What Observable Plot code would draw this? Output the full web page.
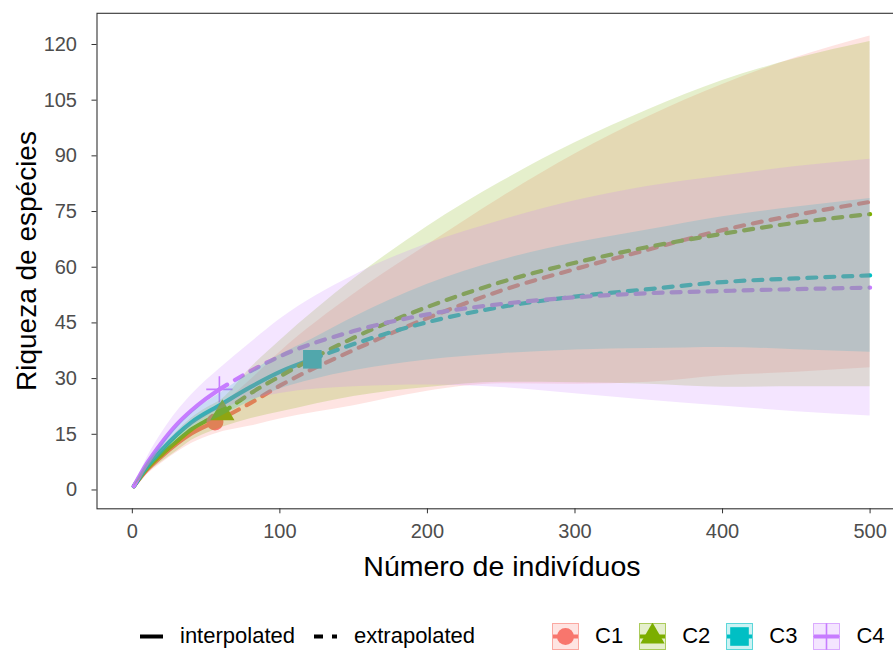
<!DOCTYPE html>
<html lang="pt">
<head>
<meta charset="utf-8">
<script src="https://cdn.jsdelivr.net/npm/d3@7"></script>
<script src="https://cdn.jsdelivr.net/npm/@observablehq/plot@0.6"></script>
<style>
  html, body { margin:0; padding:0; background:#fff; overflow:hidden; }
  body { width:893px; height:651px; position:relative; font-family:"Liberation Sans", Arial, sans-serif; }
  #chart { position:absolute; left:0; top:0; width:893px; height:600px; overflow:hidden; }
  #legend { position:absolute; left:0; top:622px; height:28px; display:flex; align-items:center; padding-left:137px; font-size:22px; color:#000; white-space:nowrap; }
  .item { display:flex; align-items:center; }
  .key { width:27px; height:27px; display:block; overflow:hidden; }
  .lbl { margin-left:16px; margin-right:16px; }
  .gap { width:61px; }
</style>
</head>
<body>
<div id="chart"></div>
<div id="legend"></div>
<script>
// ---------- data ----------
const assemblages = ["C1", "C2", "C3", "C4"];
const observedM = [56, 61, 122, 59];
const observedS = [18.3, 20.7, 35.2, 27.1];

const c1M  = [1, 10, 20, 30, 40, 56, 80, 100, 150, 200, 250, 300, 350, 400, 450, 500];
const c1S  = [1, 5.4, 9.1, 12.4, 15.2, 18.3, 23.4, 28.1, 37.7, 46.3, 53.7, 59.5, 64.8, 70.0, 74.1, 77.6];
const c1Lo = [1, 4.2, 7.3, 10.1, 12.5, 15.1, 17.2, 19.1, 22.7, 26.6, 28.6, 28.5, 29.0, 30.8, 31.7, 32.9];
const c1Hi = [1, 6.6, 10.9, 14.7, 17.9, 21.5, 29.6, 37.1, 52.7, 66.0, 78.8, 90.5, 100.6, 109.2, 116.5, 122.3];

const c2M  = [1, 10, 20, 30, 40, 50, 61, 80, 100, 150, 200, 250, 300, 350, 400, 450, 500];
const c2S  = [1, 5.8, 9.6, 13.0, 16.3, 18.6, 20.7, 26.0, 30.6, 41.0, 49.3, 56.0, 61.2, 65.5, 69.0, 72.0, 74.3];
const c2Lo = [1, 4.5, 7.6, 10.4, 13.3, 15.2, 16.9, 19.2, 21.0, 25.2, 27.6, 29.0, 28.9, 28.5, 27.7, 27.8, 27.8];
const c2Hi = [1, 7.1, 11.6, 15.6, 19.3, 22.0, 24.5, 32.8, 40.2, 56.8, 71.0, 83.0, 93.5, 102.5, 110.3, 116.2, 120.8];

const c3M  = [1, 10, 20, 40, 60, 80, 100, 122, 150, 200, 250, 300, 350, 400, 450, 500];
const c3S  = [1, 6.2, 10.8, 18.2, 23.0, 27.7, 31.8, 35.2, 39.3, 45.2, 49.3, 52.1, 54.1, 56.0, 57.0, 57.8];
const c3Lo = [1, 5.2, 9.2, 15.7, 19.8, 23.8, 27.2, 29.7, 32.1, 35.0, 36.7, 37.7, 38.1, 38.4, 37.8, 37.1];
const c3Hi = [1, 7.2, 12.4, 20.7, 26.2, 31.6, 36.4, 40.7, 46.5, 55.4, 61.9, 66.5, 70.1, 73.6, 76.2, 78.5];

const c4M  = [1, 10, 20, 30, 40, 50, 59, 80, 100, 150, 200, 250, 300, 350, 400, 450, 500];
const c4S  = [1, 7.2, 12.8, 17.6, 21.4, 24.6, 27.1, 32.0, 36.0, 42.8, 47.3, 50.1, 51.9, 53.0, 53.6, 54.1, 54.5];
const c4Lo = [1, 5.7, 10.2, 14.2, 17.2, 19.7, 21.6, 24.4, 26.0, 27.8, 28.3, 27.6, 25.9, 24.2, 22.6, 21.1, 19.9];
const c4Hi = [1, 8.7, 15.4, 21.0, 25.6, 29.5, 32.6, 39.6, 46.0, 57.8, 66.3, 72.6, 77.9, 81.8, 84.6, 87.1, 89.1];

const xTicks = [0, 100, 200, 300, 400, 500];
const yTicks = [0, 15, 30, 45, 60, 75, 90, 105, 120];
const xTitle = "Número de indivíduos";
const yTitle = "Riqueza de espécies";
const methodLabels = ["interpolated", "extrapolated"];

// ---------- styles ----------
const colors = ["#F8766D", "#7CAE00", "#00BFC4", "#C77CFF"];
const symbols = ["circle", "triangle", "square", "plus"];
const dotR = [8.5, 9, 10.5, 8.5];
const dash = "9,9";
const tickText = "#4D4D4D";

// ---------- tables ----------
const seriesCols = [
  [c1M, c1S, c1Lo, c1Hi],
  [c2M, c2S, c2Lo, c2Hi],
  [c3M, c3S, c3Lo, c3Hi],
  [c4M, c4S, c4Lo, c4Hi]
];
const rows = [];
assemblages.forEach((a, i) => {
  const [M, S, Lo, Hi] = seriesCols[i];
  M.forEach((m, j) => rows.push({assemblage: a, m, S: S[j], lo: Lo[j], hi: Hi[j], n: observedM[i]}));
});
const interp = rows.filter(d => d.m <= d.n);
const extrap = rows.filter(d => d.m >= d.n);
const obs = assemblages.map((a, i) => ({assemblage: a, m: observedM[i], S: observedS[i]}));

const dotMarks = obs.map((d, i) => symbols[i] === "plus"
  ? Plot.dot([d], {x: "m", y: "S", symbol: symbols[i], stroke: "assemblage", strokeWidth: 1.6, r: dotR[i]})
  : Plot.dot([d], {x: "m", y: "S", symbol: symbols[i], fill: "assemblage", r: dotR[i]}));

const chart = Plot.plot({
  width: 912, height: 600,
  marginLeft: 96.5, marginRight: 5.6, marginTop: 12.8, marginBottom: 91.7,
  style: {maxWidth: "none", fontFamily: "Liberation Sans, Arial, sans-serif", fontSize: "20px", background: "transparent"},
  x: {domain: [-23.95, 524.95]},
  y: {domain: [-5.07, 128.4]},
  color: {domain: assemblages, range: colors},
  marks: [
    Plot.line(interp, {x: "m", y: "S", z: "assemblage", stroke: "assemblage", strokeWidth: 4.2, curve: "monotone-x"}),
    Plot.line(extrap, {x: "m", y: "S", z: "assemblage", stroke: "assemblage", strokeWidth: 4.2, strokeDasharray: dash, curve: "monotone-x"}),
    ...dotMarks,
    Plot.areaY(rows, {x: "m", y1: "lo", y2: "hi", z: "assemblage", fill: "assemblage", fillOpacity: 0.2, curve: "monotone-x"}),
    Plot.frame({stroke: "#333", strokeWidth: 1.1}),
    Plot.axisX({ticks: xTicks, tickSize: 5, stroke: "#333", tickFormat: () => "", label: null}),
    Plot.axisY({ticks: yTicks, tickSize: 5, stroke: "#333", tickFormat: () => "", label: null}),
    Plot.text(xTicks, {x: d => d, text: d => String(d), frameAnchor: "bottom", lineAnchor: "middle", dy: 23, fontSize: 20, fill: tickText}),
    Plot.text(yTicks, {y: d => d, text: d => String(d), frameAnchor: "left", textAnchor: "end", lineAnchor: "middle", dx: -20, fontSize: 20, fill: tickText}),
    Plot.text([xTitle], {text: d => d, frameAnchor: "bottom", textAnchor: "middle", lineAnchor: "middle", dy: 58, fontSize: 28.5, fill: "black"}),
    Plot.text([yTitle], {text: d => d, frameAnchor: "left", textAnchor: "middle", lineAnchor: "middle", dx: -70, rotate: -90, fontSize: 28, fill: "black"})
  ]
});
document.getElementById("chart").appendChild(chart);

// ---------- legend ----------
const d3sym = {circle: d3.symbolCircle, triangle: d3.symbolTriangle, square: d3.symbolSquare, plus: d3.symbolPlus};
const legend = document.getElementById("legend");
let html = "";
methodLabels.forEach((lab, k) => {
  const line = `<line x1="3" x2="26" y1="13.5" y2="13.5" stroke="#000" stroke-width="4"${k === 1 ? ` stroke-dasharray="${dash}"` : ""}/>`;
  html += `<div class="item"><svg class="key" viewBox="0 0 27 27">${line}</svg><span class="lbl">${lab}</span></div>`;
});
html += `<div class="gap"></div>`;
assemblages.forEach((a, i) => {
  const c = colors[i];
  const path = d3.symbol(d3sym[symbols[i]], Math.PI * dotR[i] * dotR[i])();
  const shape = symbols[i] === "plus"
    ? `<path transform="translate(13.5,13.5)" d="${path}" fill="none" stroke="${c}" stroke-width="1.6"/>`
    : `<path transform="translate(13.5,13.5)" d="${path}" fill="${c}"/>`;
  html += `<div class="item"><svg class="key" viewBox="0 0 27 27">
    <rect x="0.5" y="0.5" width="26" height="26" fill="${c}" fill-opacity="0.2" stroke="${c}" stroke-opacity="0.6"/>
    <line x1="1" x2="26" y1="13.5" y2="13.5" stroke="${c}" stroke-width="4"/>${shape}</svg><span class="lbl">${a}</span></div>`;
});
legend.innerHTML = html;
</script>
</body>
</html>
